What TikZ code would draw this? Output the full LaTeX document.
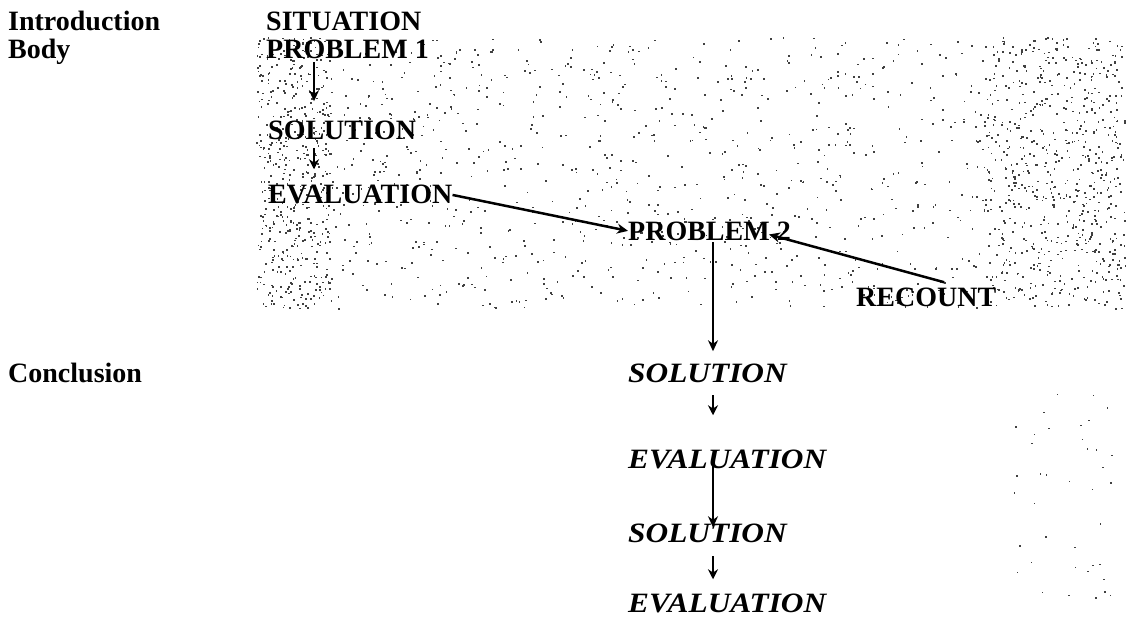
\documentclass[tikz,border=0pt]{standalone}
\usepackage{fontspec}
\setmainfont{Liberation Serif}
\newfontfamily\wideserif[FakeStretch=1.12]{Liberation Serif}
\usetikzlibrary{arrows.meta,calc}

\tikzset{
    lab/.style={font=\fontsize{28}{30}\selectfont\bfseries, anchor=base west, inner sep=0pt},
    ital/.style={lab, font=\wideserif\fontsize{28}{30}\selectfont\bfseries\itshape},
    flow/.style={line width=2.5pt, -{Stealth[length=11pt,width=10pt]}},
    tick/.style={line width=2pt, -{Stealth[length=10pt,width=10pt]}},
    speck/.style={fill=black!75}
}

\begin{document}
\begin{tikzpicture}[x=1pt,y=-1pt]
                    \useasboundingbox (0,0) rectangle (1126,631);
                    % Stippled body area
                    \pgfmathsetseed{1126}
                    \foreach \k in {1,...,1200}
                        \fill[speck] ({256+870*rnd},{37+271*rnd}) rectangle ++(1.7,1.7);
                    \foreach \k in {1,...,400}
                        \fill[speck] ({256+75*rnd},{37+271*rnd}) rectangle ++(1.7,1.7);
                    \foreach \k in {1,...,500}
                        \fill[speck] ({985+141*rnd},{37+271*rnd}) rectangle ++(1.7,1.7);
                    \foreach \k in {1,...,40}
                        \fill[speck] ({1010+110*rnd},{390+210*rnd}) rectangle ++(1.5,1.5);
                    % Labels
                    \node[lab] (intro) at (8,31) {Introduction};
                    \node[lab] (body) at (8,59) {Body};
                    \node[lab] (concl) at (8,382) {Conclusion};
                    % Body
                    \node[lab] (sit) at (266,31) {SITUATION};
                    \node[lab] (prob1) at (266,59) {PROBLEM 1};
                    \node[lab] (sol1) at (268,140) {SOLUTION};
                    \node[lab] (eval1) at (268,204) {EVALUATION};
                    \node[lab] (prob2) at (628,240) {PROBLEM 2};
                    \node[lab] (recount) at (856,306) {RECOUNT};
                    % Conclusion
                    \node[ital] (sol2) at (628,382) {SOLUTION};
                    \node[ital] (eval2) at (628,468) {EVALUATION};
                    \node[ital] (sol3) at (628,542) {SOLUTION};
                    \node[ital] (eval3) at (628,612) {EVALUATION};
                    % Columns of the arrows
                    \coordinate (colA) at (314,0);
                    \coordinate (colB) at (713,0);
                    \coordinate (rcTail) at ([xshift=18pt,yshift=5pt]recount.north);
                    % Arrows
                    \draw[flow, shorten <=3pt, shorten >=20pt] (prob1.south -| colA) -- (sol1.north -| colA);
                    \draw[tick, shorten <=8pt, shorten >=16pt] (sol1.south -| colA) -- (eval1.north -| colA);
                    \draw[flow] (eval1.east) -- (prob2.west);
                    \draw[flow] (rcTail) -- ([xshift=-22pt,yshift=6pt]prob2.south east);
                    \draw[flow, shorten <=2pt, shorten >=12pt] (prob2.south -| colB) -- (sol2.north -| colB);
                    \draw[tick, shorten <=13pt, shorten >=34pt] (sol2.south -| colB) -- (eval2.north -| colB);
                    \draw[flow, shorten <=-10pt, shorten >=-4pt] (eval2.south -| colB) -- (sol3.north -| colB);
                    \draw[tick, shorten <=14pt, shorten >=14pt] (sol3.south -| colB) -- (eval3.north -| colB);
                \end{tikzpicture}
\end{document}
